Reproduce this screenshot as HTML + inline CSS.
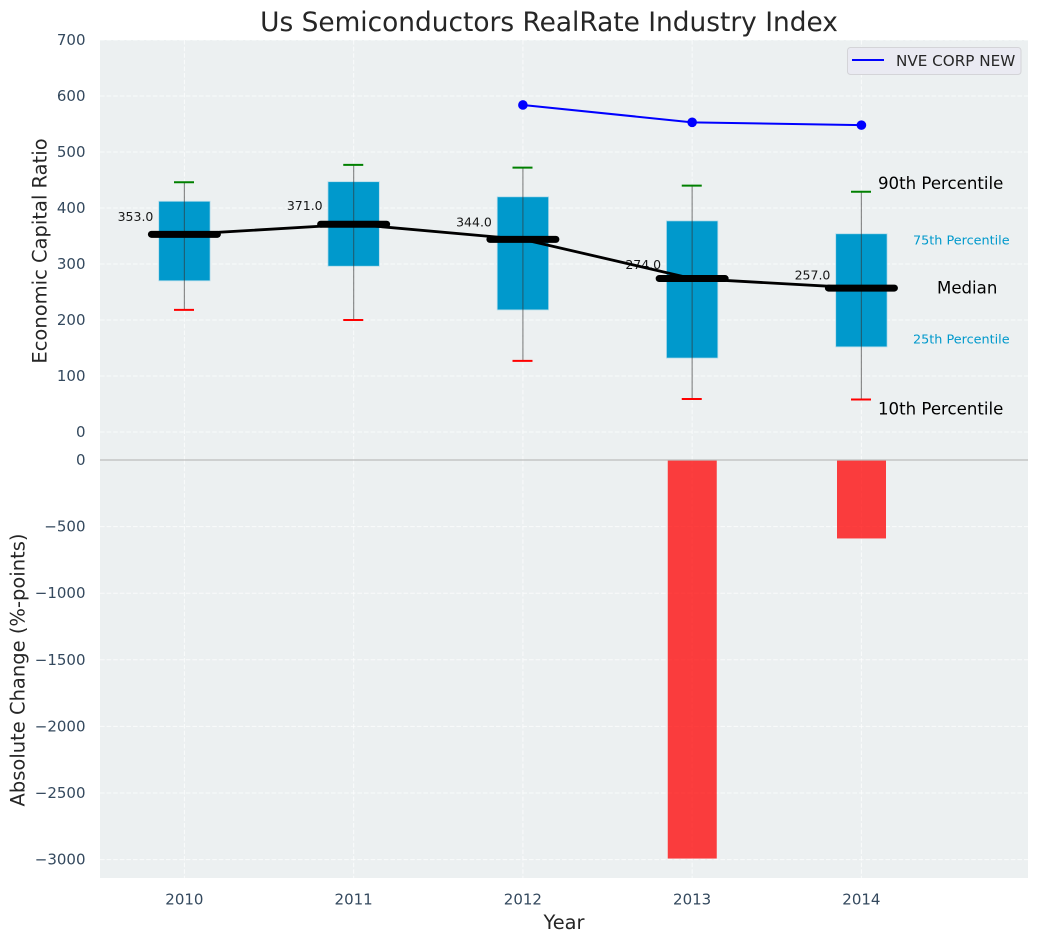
<!DOCTYPE html>
<html lang="en">
<head>
<meta charset="utf-8">
<title>Us Semiconductors RealRate Industry Index</title>
<style>
html,body{margin:0;padding:0;background:#fff;}
svg{display:block;font-family:"DejaVu Sans","Liberation Sans",sans-serif;}
</style>
</head>
<body>
<svg id="chart" xmlns="http://www.w3.org/2000/svg" width="1039" height="942" viewBox="0 0 1039 942"></svg>
<script>
const categories = [2010, 2011, 2012, 2013, 2014];
const p90Values = [446, 477, 472, 440, 429];
const q3Values = [412, 447, 420, 377, 354];
const medianValues = [353, 371, 344, 274, 257];
const q1Values = [270, 296, 218, 132, 152];
const p10Values = [218, 200, 127, 59, 58];
const companyYears = [2012, 2013, 2014];
const companyValues = [584, 553, 548];
const changeYears = [2013, 2014];
const changeValues = [-2992, -589];
const topTicks = [0, 100, 200, 300, 400, 500, 600, 700];
const bottomTicks = [0, -500, -1000, -1500, -2000, -2500, -3000];

const NS = 'http://www.w3.org/2000/svg';
const svg = document.getElementById('chart');
const L = 100, R = 1028, T1 = 40, B1 = 460, T2 = 460, B2 = 878;
const xs = v => 184.4 + (v - 2010) * 169.25;
const yTop = v => 432 - v * 0.56;
const yBot = v => 460 - v * 0.1332;

function mk(tag, attrs, text) {
  const el = document.createElementNS(NS, tag);
  for (const k in attrs) el.setAttribute(k, attrs[k]);
  if (text !== undefined) el.textContent = text;
  svg.appendChild(el);
  return el;
}
const fmtTick = v => v < 0 ? '\u2212' + Math.abs(v) : String(v);
const GRID = {stroke:'#ffffff','stroke-opacity':0.7,'stroke-width':1,'stroke-dasharray':'4.6 2'};

const panelTop = mk('rect', {x:L,y:T1,width:R-L,height:B1-T1,fill:'#ecf0f1'});


const panelBot = mk('rect', {x:L,y:T2,width:R-L,height:B2-T2,fill:'#ecf0f1'});



topTicks.forEach(t => {
  const g = mk('line', {x1:L,x2:R,y1:yTop(t),y2:yTop(t),...GRID});
  
  
  const lab = mk('text', {x:85.5,y:yTop(t)+5,'text-anchor':'end','font-size':15,fill:'#34495e'}, fmtTick(t));
  
  
});
bottomTicks.forEach(t => {
  const g = mk('line', {x1:L,x2:R,y1:yBot(t),y2:yBot(t),...GRID});
  
  
  const lab = mk('text', {x:85.5,y:yBot(t)+5,'text-anchor':'end','font-size':15,fill:'#34495e'}, fmtTick(t));
  
  
});
categories.forEach(c => {
  const g1 = mk('line', {x1:xs(c),x2:xs(c),y1:T1,y2:B1,...GRID});
  
  
  const g2 = mk('line', {x1:xs(c),x2:xs(c),y1:T2,y2:B2,...GRID});
  
  
  const lab = mk('text', {x:xs(c),y:904.5,'text-anchor':'middle','font-size':15,fill:'#34495e'}, String(c));
  
  
});

categories.forEach((c, i) => {
  const box = mk('rect', {x:xs(c)-25.7,y:yTop(q3Values[i]),width:51.4,height:yTop(q1Values[i])-yTop(q3Values[i]),fill:'#0099cc',stroke:'#b5dcea','stroke-width':0.8});
  
  
  const w = mk('line', {x1:xs(c),x2:xs(c),y1:yTop(p90Values[i]),y2:yTop(p10Values[i]),stroke:'#333333','stroke-opacity':0.55,'stroke-width':1.2});
  
  
  const capHi = mk('line', {x1:xs(c)-10.4,x2:xs(c)+9.6,y1:yTop(p90Values[i]),y2:yTop(p90Values[i]),stroke:'#008000','stroke-width':2});
  
  
  const capLo = mk('line', {x1:xs(c)-10.4,x2:xs(c)+9.6,y1:yTop(p10Values[i]),y2:yTop(p10Values[i]),stroke:'#ff0000','stroke-width':2});
  
  
});

const medianLine = mk('polyline', {points:categories.map((c,i)=>xs(c)+','+yTop(medianValues[i])).join(' '),fill:'none',stroke:'#000000','stroke-width':2.8});



categories.forEach((c, i) => {
  const m = mk('line', {x1:xs(c)-33,x2:xs(c)+33,y1:yTop(medianValues[i]),y2:yTop(medianValues[i]),stroke:'#000000','stroke-width':7,'stroke-linecap':'round'});
  
  
  const v = mk('text', {x:xs(c)-31,y:yTop(medianValues[i]*1.09)+4.3,'text-anchor':'end','font-size':12.5,fill:'#000000','fill-opacity':0.9}, medianValues[i].toFixed(1));
  
  
});

const companyLine = mk('polyline', {points:companyYears.map((c,i)=>xs(c)+','+yTop(companyValues[i])).join(' '),fill:'none',stroke:'#0000ff','stroke-width':2});


companyYears.forEach((c, i) => {
  const d = mk('circle', {cx:xs(c),cy:yTop(companyValues[i]),r:4.8,fill:'#0000ff'});
  
  
});

changeYears.forEach((c, i) => {
  const b = mk('rect', {x:xs(c)-24.4,y:yBot(0),width:49,height:yBot(changeValues[i])-yBot(0),fill:'#ff0000','fill-opacity':0.75});
  
  
});

const sep = mk('line', {x1:L,x2:R,y1:460,y2:460,stroke:'#bdbdbd','stroke-width':1.2});



const last = categories.length - 1;
const xLast = xs(categories[last]);
const a90 = mk('text', {x:xLast+16.6,y:yTop(p90Values[last])-3,'font-size':16.6,fill:'#000000'}, '90th Percentile');


const a75 = mk('text', {x:xLast+51.6,y:yTop(q3Values[last])+10.5,'font-size':12.8,fill:'#0099cc'}, '75th Percentile');


const aMed = mk('text', {x:xLast+75.6,y:yTop(medianValues[last])+5.5,'font-size':16.6,fill:'#000000'}, 'Median');


const a25 = mk('text', {x:xLast+51.6,y:yTop(q1Values[last])-3.5,'font-size':12.8,fill:'#0099cc'}, '25th Percentile');


const a10 = mk('text', {x:xLast+16.6,y:yTop(p10Values[last])+15,'font-size':16.6,fill:'#000000'}, '10th Percentile');



const legendBox = mk('rect', {x:847.5,y:47.5,width:173.5,height:27,rx:3,fill:'#eaeaf2',stroke:'#d4d4d8','stroke-width':1});


const legendLine = mk('line', {x1:852,x2:884,y1:60,y2:60,stroke:'#0000ff','stroke-width':2});


const legendText = mk('text', {x:896,y:66,'font-size':15.2,fill:'#262626'}, 'NVE CORP NEW');



const title = mk('text', {x:549,y:31,'text-anchor':'middle','font-size':26.4,fill:'#262626'}, 'Us Semiconductors RealRate Industry Index');


const yTitle1 = mk('text', {x:0,y:0,transform:'translate(46.5 251) rotate(-90)','text-anchor':'middle','font-size':19.5,fill:'#262626'}, 'Economic Capital Ratio');


const yTitle2 = mk('text', {x:0,y:0,transform:'translate(24.5 670) rotate(-90)','text-anchor':'middle','font-size':19.5,fill:'#262626'}, 'Absolute Change (%-points)');


const xTitle = mk('text', {x:564,y:929,'text-anchor':'middle','font-size':19.4,fill:'#262626'}, 'Year');


</script>
</body>
</html>
